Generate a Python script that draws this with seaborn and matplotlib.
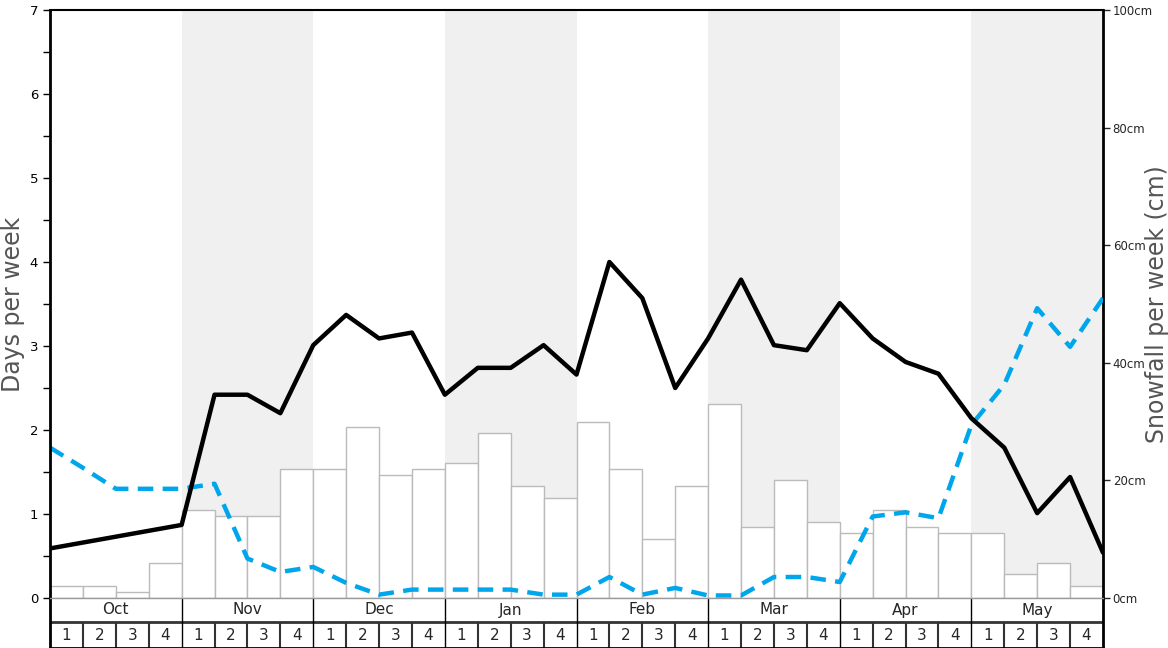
import matplotlib
matplotlib.use("Agg")
import matplotlib.pyplot as plt
import numpy as np
import seaborn as sns

months = ["Oct", "Nov", "Dec", "Jan", "Feb", "Mar", "Apr", "May"]
week_nums = ["1", "2", "3", "4"]

# snowfall per week (cm), one per week Oct 1 .. May 4
snowfall_cm = [2, 2, 1, 6, 15, 14, 14, 22, 22, 29, 21, 22, 23, 28, 19, 17,
               30, 22, 10, 19, 33, 12, 20, 13, 11, 15, 12, 11, 11, 4, 6, 2]

# days per week, values at week boundaries (33 points)
snow_days = [0.59, 0.66, 0.73, 0.80, 0.87, 2.42, 2.42, 2.20, 3.01, 3.37, 3.09,
             3.16, 2.42, 2.74, 2.74, 3.01, 2.66, 4.00, 3.57, 2.50, 3.09, 3.79,
             3.01, 2.95, 3.51, 3.09, 2.81, 2.67, 2.14, 1.79, 1.01, 1.44, 0.54]
other_days = [1.79, 1.55, 1.30, 1.30, 1.30, 1.36, 0.47, 0.31, 0.37, 0.18, 0.04,
              0.10, 0.10, 0.10, 0.10, 0.04, 0.04, 0.25, 0.04, 0.12, 0.03, 0.03,
              0.25, 0.25, 0.19, 0.97, 1.02, 0.95, 2.06, 2.54, 3.45, 2.99, 3.57]

n_weeks = len(snowfall_cm)
week_idx = np.arange(n_weeks)
edges = np.arange(n_weeks + 1) - 0.5

sns.set_style("white")
plt.rcParams["font.family"] = ["DejaVu Sans"]

fig = plt.figure(figsize=(11.68, 6.48), dpi=100)
L, W = 50 / 1168, 1053 / 1168
B, H = 50 / 648, 588 / 648

ax = fig.add_axes([L, B, W, H])
ax2 = ax.twinx()
ax.set_zorder(ax2.get_zorder() + 1)
ax.patch.set_visible(False)

# alternating month bands
for i in range(1, len(months), 2):
    ax2.axvspan(4 * i - 0.5, 4 * i + 3.5, color="#f0f0f0", lw=0, zorder=0)

sns.barplot(x=week_idx, y=snowfall_cm, ax=ax2, native_scale=True, width=1,
            color="white", saturation=1, edgecolor="#bbbbbb", linewidth=1,
            zorder=2)

sns.lineplot(x=edges, y=other_days, ax=ax, color="#00a6ec", linewidth=3.2,
             linestyle=(0, (3.5, 2.1)))
sns.lineplot(x=edges, y=snow_days, ax=ax, color="black", linewidth=3.2)

ax.set_xlim(-0.5, n_weeks - 0.5)
ax.set_ylim(0, 7)
ax2.set_ylim(0, 100)
ax.set_xticks([])
ax2.set_xticks([])
ax.set_xlabel("")
ax2.set_xlabel("")

ax.set_yticks(range(8))
ax.set_yticks(np.arange(0.5, 7, 1), minor=True)
ax.tick_params(axis="y", which="both", length=5, width=1, labelsize=9.5,
               left=True, colors="black")
ax2.set_yticks(range(0, 101, 20))
ax2.set_yticklabels([f"{v}cm" for v in range(0, 101, 20)])
ax2.tick_params(axis="y", length=5, width=1, labelsize=8.5, right=True, pad=2)

ax.set_ylabel("Days per week", fontsize=17, color="#555555")
ax.yaxis.set_label_coords(-0.0235, 0.5)
ax2.set_ylabel("Snowfall per week (cm)", fontsize=17, color="#555555")
ax2.yaxis.set_label_coords(1.040, 0.5)

for s in ["left", "right", "top", "bottom"]:
    ax.spines[s].set_visible(False)
    ax2.spines[s].set_visible(False)
ax.spines["left"].set_visible(True)
ax.spines["left"].set_linewidth(2)
ax.spines["left"].set_color("black")
ax.spines["top"].set_visible(True)
ax.spines["top"].set_linewidth(1.5)
ax.spines["top"].set_color("black")
ax.spines["bottom"].set_visible(True)
ax.spines["bottom"].set_linewidth(1)
ax.spines["bottom"].set_color("#999999")
ax2.spines["right"].set_visible(True)
ax2.spines["right"].set_linewidth(2)
ax2.spines["right"].set_color("black")

# month / week strip below the plot
tab = fig.add_axes([L, 0, W, B])
tab.set_xlim(-0.5, n_weeks - 0.5)
tab.set_ylim(0, 50)
tab.set_xticks([])
tab.set_yticks([])
tab.patch.set_alpha(0)
tab.spines["top"].set_visible(False)
for s in ["left", "right", "bottom"]:
    tab.spines[s].set_linewidth(2)
    tab.spines[s].set_color("black")

tab.hlines(26, -0.5, n_weeks - 0.5, color="#333333", lw=2)
for i, m in enumerate(months):
    tab.text(4 * i + 1.5, 38, m, ha="center", va="center", fontsize=11)
    if i > 0:
        tab.vlines(4 * i - 0.5, 0, 50, color="black", lw=1)
for j in range(n_weeks):
    tab.text(j, 12.5, week_nums[j % 4], ha="center", va="center", fontsize=11)
    if j % 4:
        tab.vlines(j - 0.5, 0, 26, color="#333333", lw=1.5)

fig.savefig("out.png", dpi=100)
